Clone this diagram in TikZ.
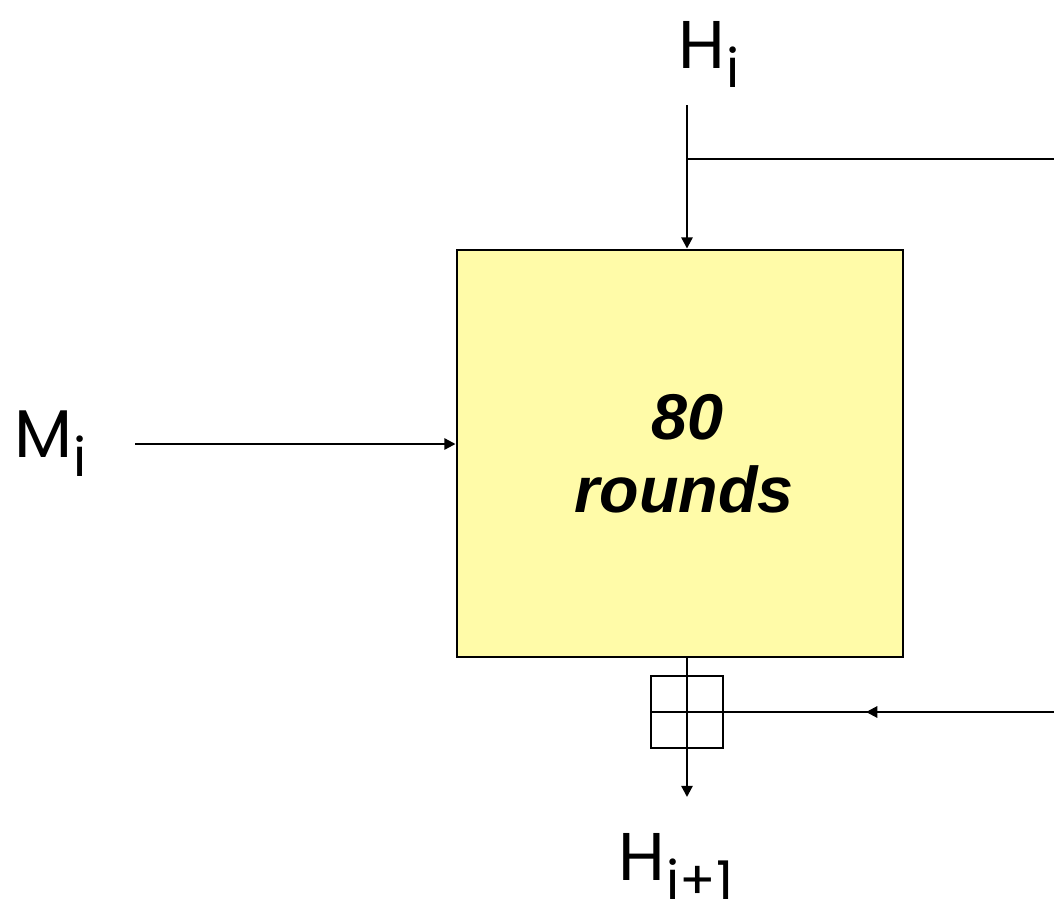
\documentclass[tikz,border=0pt]{standalone}
\usepackage{fontspec}
\setmainfont{Liberation Sans}
\newfontfamily\geofont{Poppins}
\usepackage{tikz}
\usetikzlibrary{arrows.meta,positioning,calc,decorations.markings}
\definecolor{roundyellow}{HTML}{FFFBA8}
\newcommand{\sublabel}[2]{{\geofont\fontsize{48}{50}\selectfont #1}\kern1pt\raisebox{-14pt}{\geofont\fontsize{38}{40}\selectfont #2}}

\begin{document}
\begin{tikzpicture}[x=0.025cm,y=-0.025cm,
    wire/.style={line width=1.6pt},
    arr/.style={wire,-{Triangle[length=8pt,width=8pt]}},
    lbl/.style={anchor=base west,inner sep=0pt}]
      \useasboundingbox (0,0) rectangle (1054,903);
      % Compression box
      \node[draw,line width=2pt,fill=roundyellow,minimum width=11.15cm,minimum height=10.175cm,
            align=center,font=\fontsize{46}{52}\selectfont\bfseries\itshape] (rounds) at (680,453.5) {\hspace*{10pt}80\\\hspace*{6pt}rounds};
      % Adder
      \node[draw,line width=1.8pt,minimum size=1.8cm,inner sep=0pt,
            path picture={\draw[wire] (path picture bounding box.north) -- (path picture bounding box.south)
                          (path picture bounding box.west) -- (path picture bounding box.east);}] (adder) at (687,712) {};
      % Labels
      \node[lbl] (hin) at (678,68) {\sublabel{H}{i}};
      \node[lbl] (min) at (14,457) {\sublabel{M}{i}};
      \node[lbl] (hout) at (618,880) {\sublabel{H}{i+1}};
      \coordinate (hstart) at (687,105);
      \coordinate (branch) at (687,159);
      \coordinate (fbout) at (1054,159);
      \coordinate (fbin) at (1054,712);
      \coordinate (mstart) at (135,444);
      \coordinate (outtip) at (687,797);
      % Wires
      \draw[arr] (hstart) -- (rounds.north -| hstart);
      \draw[wire] (branch) -- (fbout);
      \draw[arr] (mstart) -- (rounds.west |- mstart);
      \draw[wire] (rounds.south -| adder) -- (adder.north);
      \draw[arr] (adder.south) -- (outtip);
      \draw[wire,postaction={decorate},decoration={markings,mark=at position 0.57 with {\arrow{Triangle[length=8pt,width=8pt]}}}]
        (fbin) -- (adder.east);
    \end{tikzpicture}
\end{document}
